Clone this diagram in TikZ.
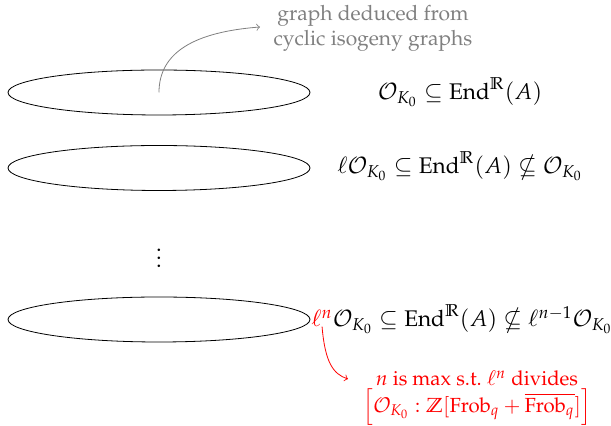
\documentclass[tikz,border=0pt]{standalone}
\usepackage[T1]{fontenc}
\usepackage{amsmath,amssymb}
\usepackage{mathpazo}
\usetikzlibrary{shapes.geometric}
\definecolor{lbl}{RGB}{128,128,128}
\tikzset{
  layer/.style={draw, ellipse, minimum width=151pt, minimum height=22.5pt, inner sep=0pt},
  lab/.style={inner sep=0pt, font=\fontsize{11.3}{13.6}\selectfont},
  note/.style={inner sep=0pt, align=center, font=\fontsize{10.5}{12.6}\selectfont},
  rnote/.style={inner sep=0pt, align=center, font=\fontsize{10.2}{12.2}\selectfont},
}
\begin{document}
\begin{tikzpicture}[x=0.5pt, y=-0.5pt]
\useasboundingbox (0,0) rectangle (611,426);
\node[layer] (e1) at (159,92.5) {};
\node[layer] (e2) at (159,168) {};
\node[layer] (e3) at (159,319.5) {};
\node[lab] (d) at (159,252) {$\vdots$};
\node[lab] (l1) at (460,92) {$\mathcal{O}_{K_0} \subseteq \mathrm{End}^{\mathbb{R}}(A)$};
\node[lab] (l2) at (460,166) {$\ell\mathcal{O}_{K_0} \subseteq \mathrm{End}^{\mathbb{R}}(A) \nsubseteq \mathcal{O}_{K_0}$};
\node[lab, anchor=west, text=red] (ln) at (311,318) {$\ell^n$};
\node[lab, anchor=base west] (l3) at ([xshift=-0.3pt]ln.base east) {$\mathcal{O}_{K_0} \subseteq \mathrm{End}^{\mathbb{R}}(A) \nsubseteq \ell^{n-1}\mathcal{O}_{K_0}$};
\node[note, text=lbl] (g) at (373,28) {graph deduced from\\cyclic isogeny graphs};
\node[rnote, text=red] (r) at (477,398) {$n$ is max s.t.\ $\ell^n$ divides\\[1pt]$\left[\mathcal{O}_{K_0} : \mathbb{Z}[\mathrm{Frob}_q + \overline{\mathrm{Frob}_q}]\right]$};
\coordinate (gt) at (260,27);
\coordinate (rt) at (348,379);
\draw[lbl, ->] (e1.center) .. controls (159,52) and (195,32) .. (gt);
\draw[red, ->] (ln.south) .. controls (325,362) and (333,374) .. (rt);
\end{tikzpicture}
\end{document}
